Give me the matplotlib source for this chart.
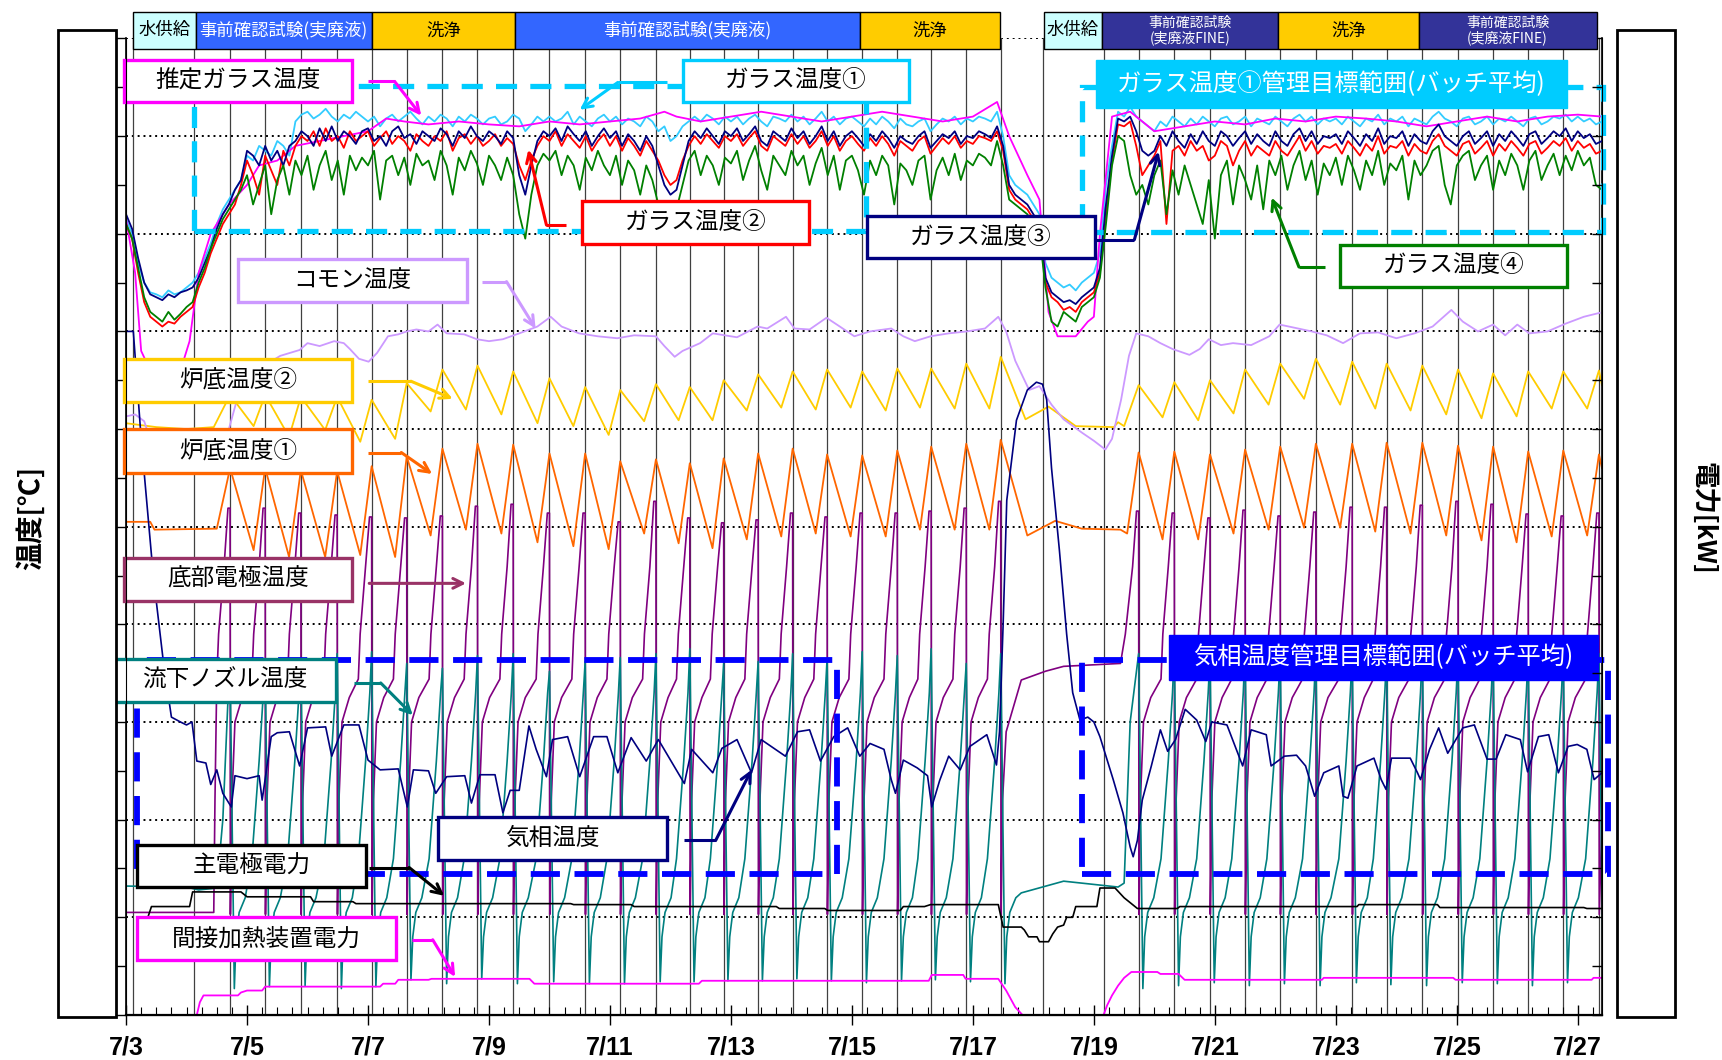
# -*- coding: utf-8 -*-
import numpy as np
import matplotlib
matplotlib.use("Agg")
import matplotlib.pyplot as plt
from matplotlib.patches import Rectangle
from matplotlib.transforms import blended_transform_factory

plt.rcParams['font.family'] = ['Noto Sans CJK JP', 'DejaVu Sans']

# time axis: days since 7/3 0:00
date_ticks = [0, 2, 4, 6, 8, 10, 12, 14, 16, 18, 20, 22, 24]
date_labels = ['7/3', '7/5', '7/7', '7/9', '7/11', '7/13', '7/15',
               '7/17', '7/19', '7/21', '7/23', '7/25', '7/27']

# operation phases (top band)
phase_names = ['水供給', '事前確認試験(実廃液)', '洗浄', '事前確認試験(実廃液)', '洗浄',
               '水供給', '事前確認試験\n(実廃液FINE)', '洗浄', '事前確認試験\n(実廃液FINE)']
phase_kind = ['water', 'real', 'wash', 'real', 'wash', 'water', 'fine', 'wash', 'fine']
phase_start = [0.12, 1.15, 4.06, 6.43, 12.14, 15.17, 16.14, 19.05, 21.37]
phase_end = [1.15, 4.06, 6.43, 12.14, 14.45, 16.14, 19.05, 21.37, 24.31]

# event lines (batch pours etc.)
events = [0.12, 1.13, 1.72, 2.30, 2.89, 3.49, 4.06, 4.64, 5.23, 5.81, 6.40, 7.00,
          7.59, 8.17, 8.76, 9.32, 9.88, 10.45, 11.02, 11.59, 12.17, 12.75, 13.31,
          13.89, 14.46, 15.16, 16.16, 16.74, 17.33, 17.92, 18.50, 19.08, 19.67,
          20.27, 20.84, 21.43, 22.02, 22.60, 23.18, 23.76, 24.35]

# pour cycles, first and second test periods
pour1 = [1.72, 2.30, 2.89, 3.49, 4.06, 4.64, 5.23, 5.81, 6.40, 7.00, 7.59, 8.17,
         8.76, 9.32, 9.88, 10.45, 11.02, 11.59, 12.17, 12.75, 13.31, 13.89, 14.46]
pour2 = [16.74, 17.33, 17.92, 18.50, 19.08, 19.67, 20.27, 20.84, 21.43, 22.02,
         22.60, 23.18, 23.76, 24.35]

# ---- glass temperatures, sampled every 0.1 day (one row per day) ----
t_glass = np.round(np.arange(245) * 0.1, 1)
glass1 = [8.15, 8.0, 7.7, 7.5, 7.4, 7.38, 7.35, 7.42, 7.38, 7.4,
          7.45, 7.5, 7.6, 7.75, 7.9, 8.1, 8.25, 8.35, 8.45, 8.55,
          8.8, 8.75, 8.9, 8.85, 8.8, 8.95, 8.9, 8.8, 9.15, 9.22,
          9.25, 9.18, 9.22, 9.28, 9.2, 9.15, 9.22, 9.18, 9.25, 9.2,
          9.15, 9.2, 9.1, 9.18, 9.22, 9.15, 9.2, 9.25, 9.18, 9.12,
          9.2, 9.15, 9.22, 9.18, 9.1, 9.2, 9.15, 9.22, 9.18, 9.12,
          9.18, 9.2, 9.12, 9.15, 9.22, 9.18, 9.05, 9.12, 9.2, 9.15,
          9.2, 9.15, 9.18, 9.25, 9.12, 9.2, 9.15, 9.1, 9.18, 9.22,
          9.15, 9.2, 9.12, 9.18, 9.15, 9.1, 9.2, 9.15, 9.05, 9.1,
          8.95, 9.0, 9.1, 9.15, 9.2, 9.15, 9.22, 9.18, 9.12, 9.2,
          9.15, 9.2, 9.12, 9.18, 9.22, 9.15, 9.1, 9.2, 9.18, 9.15,
          9.22, 9.15, 9.2, 9.12, 9.18, 9.25, 9.15, 9.2, 9.12, 9.18,
          9.2, 9.15, 9.1, 9.18, 9.12, 9.2, 9.15, 9.08, 9.18, 9.12,
          9.1, 9.15, 9.18, 9.05, 9.12, 9.18, 9.15, 9.2, 9.12, 9.18,
          9.15, 9.2, 9.18, 9.15, 9.25, 9.0, 8.6, 8.5, 8.45, 8.4,
          8.3, 8.2, 7.7, 7.55, 7.5, 7.45, 7.48, 7.42, 7.5, 7.55,
          7.6, 7.8, 8.5, 8.9, 9.25, 9.2, 9.3, 9.2, 9.15, 9.1,
          9.05, 9.15, 9.1, 9.2, 9.15, 9.1, 9.18, 9.12, 9.2, 9.15,
          9.1, 9.18, 9.2, 9.12, 9.15, 9.2, 9.1, 9.18, 9.15, 9.12,
          9.2, 9.15, 9.1, 9.18, 9.22, 9.15, 9.2, 9.12, 9.18, 9.15,
          9.18, 9.12, 9.2, 9.15, 9.1, 9.18, 9.15, 9.22, 9.12, 9.18,
          9.15, 9.2, 9.1, 9.18, 9.15, 9.12, 9.2, 9.25, 9.18, 9.15,
          9.1, 9.18, 9.2, 9.12, 9.15, 9.2, 9.12, 9.18, 9.15, 9.2,
          9.15, 9.1, 9.18, 9.2, 9.12, 9.15, 9.2, 9.18, 9.22, 9.15,
          9.2, 9.15, 9.18, 9.12, 9.15]
glass2 = [8.1, 7.95, 7.6, 7.3, 7.15, 7.1, 7.05, 7.1, 7.08, 7.15,
          7.2, 7.25, 7.45, 7.6, 7.8, 7.95, 8.1, 8.2, 8.3, 8.5,
          8.75, 8.6, 8.4, 8.8, 8.65, 8.5, 8.85, 8.7, 8.9, 9.0,
          8.95, 9.05, 8.9, 9.08, 8.95, 9.0, 8.88, 9.05, 8.95, 9.0,
          9.05, 8.9, 8.98, 9.05, 8.92, 9.0, 8.95, 8.85, 9.02, 8.95,
          8.9, 9.0, 8.95, 9.05, 8.85, 8.98, 9.02, 8.92, 9.0, 8.9,
          8.95, 9.02, 8.9, 8.98, 8.92, 8.7, 8.55, 8.75, 8.9, 9.0,
          8.95, 9.05, 8.9, 9.02, 8.95, 8.88, 9.0, 8.85, 8.95, 9.02,
          8.9, 9.0, 8.85, 8.98, 8.9, 8.8, 8.95, 8.85, 8.75, 8.6,
          8.5, 8.55, 8.75, 8.9, 9.0, 8.92, 9.02, 8.95, 8.88, 9.0,
          8.95, 9.02, 8.9, 8.98, 9.05, 8.9, 8.85, 9.0, 8.95, 8.9,
          9.02, 8.92, 9.0, 8.88, 8.95, 9.05, 8.9, 9.0, 8.85, 8.95,
          9.0, 8.92, 8.85, 8.98, 8.9, 9.0, 8.92, 8.8, 8.95, 8.9,
          8.85, 8.95, 9.0, 8.82, 8.9, 8.98, 8.92, 9.0, 8.88, 8.95,
          8.92, 9.0, 8.98, 8.95, 9.05, 8.85, 8.45, 8.35, 8.3, 8.25,
          8.15, 8.05, 7.5, 7.35, 7.3, 7.22, 7.25, 7.2, 7.3, 7.35,
          7.4, 7.6, 8.2, 8.75, 9.12, 9.1, 9.15, 8.9, 8.6, 8.7,
          8.8, 8.95, 8.1, 8.85, 8.9, 8.8, 8.95, 8.85, 8.9, 8.75,
          8.8, 8.95, 8.9, 8.7, 8.85, 8.95, 8.8, 8.9, 8.85, 8.8,
          8.95, 8.85, 8.8, 8.9, 9.0, 8.85, 8.95, 8.82, 8.9, 8.88,
          8.92, 8.82, 8.95, 8.88, 8.8, 8.92, 8.85, 9.0, 8.82, 8.9,
          8.88, 8.95, 8.8, 8.92, 8.85, 8.82, 8.95, 9.02, 8.9, 8.85,
          8.8, 8.92, 8.95, 8.82, 8.88, 8.95, 8.8, 8.92, 8.85, 8.95,
          8.88, 8.8, 8.92, 8.95, 8.82, 8.88, 8.95, 8.9, 8.98, 8.85,
          8.95, 8.88, 8.92, 8.82, 8.85]
glass3 = [8.2, 8.05, 7.75, 7.5, 7.38, 7.35, 7.32, 7.38, 7.35, 7.4,
          7.42, 7.45, 7.55, 7.7, 7.85, 8.05, 8.2, 8.3, 8.45, 8.55,
          8.85, 8.8, 8.7, 8.9, 8.75, 8.85, 8.7, 8.9, 8.95, 9.05,
          9.0, 8.9, 9.08, 8.95, 9.1, 8.95, 9.05, 9.0, 8.92, 9.05,
          9.08, 8.95, 9.0, 8.9, 9.05, 9.1, 8.98, 9.02, 8.92, 9.05,
          9.0, 8.95, 9.08, 9.02, 8.9, 9.05, 8.98, 9.1, 9.0, 8.95,
          9.05, 9.0, 8.92, 9.05, 8.98, 8.6, 8.4, 8.7, 8.95, 9.05,
          9.0, 9.08, 8.95, 9.1, 9.02, 8.95, 9.05, 8.9, 9.0, 9.08,
          8.98, 9.05, 8.9, 9.02, 8.95, 8.85, 9.0, 8.9, 8.7, 8.5,
          8.4, 8.45, 8.7, 8.95, 9.05, 8.98, 9.08, 9.0, 8.92, 9.05,
          9.0, 9.08, 8.95, 9.02, 9.1, 8.95, 8.9, 9.05, 9.0, 8.95,
          9.08, 8.98, 9.05, 8.92, 9.0, 9.1, 8.95, 9.05, 8.9, 9.0,
          9.05, 8.98, 8.9, 9.02, 8.95, 9.05, 8.98, 8.88, 9.0, 8.95,
          8.92, 9.0, 9.05, 8.88, 8.95, 9.02, 8.98, 9.05, 8.92, 9.0,
          8.98, 9.05, 9.02, 8.98, 9.1, 8.9, 8.5, 8.4, 8.35, 8.3,
          8.2, 8.1, 7.55, 7.4, 7.35, 7.3, 7.32, 7.28, 7.35, 7.4,
          7.45, 7.65, 8.3, 8.8, 9.18, 9.15, 9.2, 9.05, 8.85, 8.8,
          8.85, 9.0, 8.9, 9.05, 8.95, 8.88, 9.02, 8.92, 9.05, 8.95,
          8.9, 9.05, 9.0, 8.9, 8.98, 9.05, 8.92, 9.02, 8.95, 8.9,
          9.05, 8.95, 8.9, 9.02, 9.08, 8.95, 9.05, 8.92, 9.0, 8.98,
          9.02, 8.92, 9.05, 8.98, 8.9, 9.02, 8.95, 9.08, 8.92, 9.0,
          8.98, 9.05, 8.9, 9.02, 8.95, 8.92, 9.05, 9.12, 9.0, 8.95,
          8.9, 9.0, 9.05, 8.92, 8.98, 9.05, 8.9, 9.02, 8.95, 9.05,
          8.98, 8.9, 9.02, 9.05, 8.92, 8.98, 9.05, 9.0, 9.08, 8.95,
          9.05, 8.98, 9.02, 8.92, 8.95]
glass4 = [8.1, 7.95, 7.65, 7.35, 7.2, 7.15, 7.1, 7.2, 7.12, 7.18,
          7.25, 7.3, 7.5, 7.65, 7.85, 8.0, 8.15, 8.25, 8.35, 8.45,
          8.6, 8.3, 8.5, 8.7, 8.2, 8.55, 8.7, 8.4, 8.75, 8.6,
          8.8, 8.45, 8.7, 8.85, 8.55, 8.75, 8.4, 8.8, 8.65, 8.78,
          8.7, 8.85, 8.35, 8.75, 8.8, 8.6, 8.78, 8.5, 8.82, 8.7,
          8.75, 8.55, 8.85, 8.7, 8.4, 8.78, 8.65, 8.85, 8.72, 8.5,
          8.8, 8.7, 8.55, 8.78, 8.6, 8.2, 7.95, 8.4, 8.7, 8.82,
          8.75, 8.85, 8.6, 8.8, 8.7, 8.45, 8.78, 8.65, 8.85, 8.7,
          8.6, 8.8, 8.5, 8.75, 8.65, 8.4, 8.7, 8.55, 8.3, 8.2,
          8.1, 8.25, 8.5, 8.75, 8.85, 8.6, 8.8, 8.7, 8.5, 8.78,
          8.72, 8.85, 8.55, 8.75, 8.9, 8.65, 8.45, 8.8, 8.7, 8.6,
          8.85, 8.7, 8.8, 8.5, 8.72, 8.88, 8.6, 8.8, 8.45, 8.75,
          8.8, 8.65, 8.4, 8.75, 8.6, 8.8, 8.7, 8.3, 8.72, 8.65,
          8.5, 8.75, 8.8, 8.35, 8.65, 8.78, 8.6, 8.82, 8.55, 8.75,
          8.7, 8.82, 8.78, 8.7, 8.95, 8.7, 8.35, 8.3, 8.25, 8.2,
          8.1, 8.0, 7.45, 7.1, 7.05, 7.2, 7.15, 7.1, 7.25, 7.3,
          7.35, 7.55, 8.1, 8.7, 9.0, 8.95, 8.6, 8.4, 8.5, 8.3,
          8.6, 8.75, 8.2, 8.65, 8.4, 8.7, 8.5, 8.3, 8.1, 8.55,
          7.95, 8.6, 8.75, 8.3, 8.7, 8.55, 8.35, 8.7, 8.25, 8.75,
          8.6, 8.8, 8.45, 8.7, 8.85, 8.55, 8.75, 8.4, 8.72, 8.6,
          8.78, 8.5, 8.8, 8.65, 8.45, 8.75, 8.6, 8.85, 8.5, 8.72,
          8.65, 8.8, 8.35, 8.75, 8.6, 8.7, 8.85, 8.9, 8.5, 8.3,
          8.7, 8.8, 8.85, 8.55, 8.7, 8.8, 8.45, 8.75, 8.6, 8.82,
          8.7, 8.45, 8.75, 8.85, 8.55, 8.7, 8.82, 8.6, 8.8, 8.65,
          8.85, 8.7, 8.78, 8.5, 8.45]

# estimated glass temperature (smoother)
est_t = [0, 0.15, 0.25, 0.4, 0.9, 1.05, 1.2, 1.4, 1.7, 2.0, 2.2, 2.5, 2.8, 3.2, 3.6,
         4.0, 4.3, 4.6, 5.0, 5.5, 6.0, 6.5, 7.0, 7.5, 8.0, 8.5, 8.9, 9.1, 9.5, 10.0,
         10.5, 11.0, 11.5, 12.0, 12.5, 13.0, 13.5, 14.0, 14.4, 14.6, 14.9, 15.1, 15.25,
         15.4, 15.7, 15.9, 16.0, 16.1, 16.3, 16.6, 17.0, 17.5, 18.0, 18.5, 19.0, 19.5,
         20.0, 20.5, 21.0, 21.5, 22.0, 22.5, 23.0, 23.5, 24.0, 24.4]
est_v = [8.15, 7.6, 6.8, 6.6, 6.6, 6.9, 7.6, 8.0, 8.3, 8.5, 8.7, 8.75, 8.9, 8.95, 9.0,
         9.05, 9.18, 9.15, 9.12, 9.15, 9.12, 9.1, 9.15, 9.12, 9.15, 9.18, 9.25, 9.2, 9.15,
         9.2, 9.25, 9.2, 9.15, 9.2, 9.25, 9.2, 9.15, 9.2, 9.35, 9.0, 8.6, 8.35, 7.2,
         6.95, 6.95, 7.1, 7.15, 8.0, 9.2, 9.25, 9.05, 9.1, 9.15, 9.12, 9.18, 9.15, 9.2,
         9.18, 9.15, 9.1, 9.15, 9.2, 9.15, 9.2, 9.22, 9.2]

# common temperature
common_t = [0, 0.15, 0.3, 0.45, 1.0, 1.55, 1.7, 1.9, 2.2, 2.55, 2.87, 3.0, 3.2, 3.44,
            3.6, 3.7, 3.85, 4.01, 4.15, 4.33, 4.5, 4.64, 4.8, 5.0, 5.15, 5.3, 5.59, 5.8,
            6.0, 6.23, 6.5, 6.8, 7.02, 7.2, 7.49, 7.8, 8.12, 8.4, 8.76, 8.9, 9.07,
            9.2, 9.49, 9.7, 9.9, 10.1, 10.44, 10.6, 10.91, 11.05, 11.3, 11.58, 11.8,
            12.04, 12.3, 12.65, 12.85, 13.04, 13.3, 13.6, 13.9, 14.2, 14.42, 14.55,
            14.7, 14.93, 15.1, 15.3, 15.5, 15.81, 16.0, 16.19, 16.3, 16.45, 16.58,
            16.7, 16.9, 17.1, 17.3, 17.58, 17.75, 17.9, 18.1, 18.3, 18.6, 18.9,
            19.07, 19.3, 19.6, 19.85, 20.12, 20.4, 20.7, 21.0, 21.3, 21.6, 21.91,
            22.1, 22.35, 22.6, 22.8, 23.0, 23.2, 23.5, 23.8, 24.1, 24.36]
common_v = [6.13, 6.15, 6.08, 5.8, 5.75, 5.78, 6.0, 6.45, 6.62, 6.75, 6.81, 6.88, 6.85,
            6.9, 6.88, 6.82, 6.72, 6.69, 6.78, 6.95, 6.97, 7.0, 7.02, 7.0, 7.07, 6.98,
            6.97, 6.92, 6.9, 6.92, 6.98, 7.05, 7.15, 7.05, 6.98, 6.95, 6.93, 6.96, 6.95,
            6.85, 6.74, 6.8, 6.88, 6.98, 6.96, 6.94, 7.05, 7.03, 7.15, 7.03, 7.02, 7.14,
            7.05, 6.95, 7.0, 7.03, 6.95, 6.9, 6.95, 6.98, 7.0, 7.03, 7.15, 7.0, 6.7, 6.4,
            6.44, 6.25, 6.1, 5.96, 5.88, 5.79, 5.9, 6.3, 6.75, 6.98, 6.95, 6.88, 6.82,
            6.76, 6.82, 6.92, 6.86, 6.88, 6.86, 6.95, 7.07, 7.04, 7.0, 6.96, 6.88, 6.98,
            6.99, 6.93, 6.98, 7.05, 7.22, 7.1, 7.0, 7.07, 6.96, 7.07, 6.98, 7.0, 7.08,
            7.15, 7.19]

# furnace bottom temperature 1 (peaks at pours, troughs between)
bot1_peak1 = [5.6, 5.6, 5.58, 5.57, 5.62, 5.72, 5.80, 5.85, 5.84, 5.75, 5.75, 5.67,
              5.69, 5.65, 5.70, 5.75, 5.80, 5.74, 5.73, 5.78, 5.82, 5.85, 5.89]
bot1_low1 = [4.76, 4.69, 4.69, 4.71, 4.69, 4.91, 4.97, 4.93, 4.84, 4.80, 4.77, 4.93,
             4.83, 4.78, 4.87, 4.90, 4.93, 4.90, 4.90, 4.97, 4.97, 4.97]
bot1_peak2 = [5.76, 5.77, 5.74, 5.79, 5.82, 5.85, 5.85, 5.86, 5.86, 5.83, 5.82, 5.77,
              5.78, 5.74]
bot1_low2 = [4.87, 4.87, 4.93, 4.97, 4.99, 4.99, 4.95, 4.93, 4.91, 4.86, 4.84, 4.90, 4.91]
bot1_pre_t, bot1_pre_v = [0, 0.4, 0.47, 1.5], [5.05, 5.05, 4.97, 4.98]
bot1_gap_t = [14.9, 15.36, 15.8, 16.44, 16.55]
bot1_gap_v = [4.91, 5.06, 4.98, 4.97, 4.93]

# furnace bottom temperature 2
bot2_peak1 = [6.35, 6.35, 6.33, 6.33, 6.30, 6.47, 6.61, 6.65, 6.59, 6.52, 6.43, 6.40,
              6.46, 6.43, 6.50, 6.56, 6.59, 6.61, 6.59, 6.62, 6.62, 6.67, 6.74]
bot2_low1 = [6.03, 5.92, 5.99, 5.87, 5.90, 6.18, 6.20, 6.15, 6.06, 6.03, 5.94, 6.08,
             6.09, 6.09, 6.19, 6.22, 6.20, 6.22, 6.19, 6.22, 6.21, 6.21]
bot2_peak2 = [6.45, 6.48, 6.50, 6.61, 6.67, 6.72, 6.69, 6.67, 6.65, 6.61, 6.57, 6.59,
              6.59, 6.60]
bot2_low2 = [6.12, 6.09, 6.16, 6.25, 6.31, 6.25, 6.21, 6.19, 6.15, 6.11, 6.13, 6.21, 6.21]
bot2_pre_t, bot2_pre_v = [0, 0.5, 1.0, 1.45], [6.06, 6.02, 6.0, 6.02]
bot2_gap_t = [14.87, 15.25, 15.7, 16.33, 16.4, 16.5]
bot2_gap_v = [6.1, 6.23, 6.03, 6.02, 6.07, 6.03]

# bottom electrode temperature peaks
elec_peak1 = [5.19, 5.19, 5.14, 5.12, 5.10, 5.09, 5.11, 5.21, 5.23, 5.14, 5.14, 5.05,
              5.26, 5.09, 5.04, 5.07, 5.14, 5.10, 5.14, 5.14, 5.16, 5.19, 5.26]
elec_peak2 = [5.16, 5.14, 5.09, 5.17, 5.11, 5.15, 5.20, 5.20, 5.22, 5.26, 5.23, 5.13,
              5.11, 5.14]
elec_pre_t = [0, 1.45, 1.47, 1.5, 1.53, 1.62]
elec_pre_v = [1.05, 1.05, 2.2, 3.44, 3.9, 4.59]
elec_gap_t = [14.49, 14.55, 14.8, 15.2, 15.5, 16.44, 16.52, 16.64]
elec_gap_v = [2.2, 2.9, 3.43, 3.52, 3.57, 3.6, 3.9, 4.59]

# nozzle temperature peaks / lows
noz_peak1 = [3.55, 3.6, 3.65, 3.7, 3.72, 3.6, 3.55, 3.68, 3.7, 3.52, 3.62, 3.66,
             3.7, 3.75, 3.6, 3.62, 3.7, 3.65, 3.72, 3.68, 3.75, 3.6, 3.7]
noz_low1 = [0.27, 0.29, 0.3, 0.27, 0.29, 0.36, 0.32, 0.37, 0.32, 0.34, 0.32, 0.32,
            0.34, 0.34, 0.35, 0.35, 0.37, 0.35, 0.33, 0.35, 0.36, 0.34, 0.32]
noz_peak2 = [3.7, 3.72, 3.68, 3.75, 3.7, 3.72, 3.68, 3.7, 3.74, 3.7, 3.72, 3.7, 3.68, 3.7]
noz_low2 = [0.27, 0.3, 0.33, 0.3, 0.32, 0.3, 0.33, 0.31, 0.3, 0.33, 0.32, 0.3, 0.33, 0.32]
noz_pre_t, noz_pre_v = [0, 1.0, 1.2, 1.5, 1.6, 1.69], [1.32, 1.31, 1.28, 1.3, 2.0, 3.3]
noz_gap_t = [14.8, 15.5, 16.4, 16.5, 16.6, 16.7]
noz_gap_v = [1.25, 1.37, 1.31, 1.35, 3.0, 3.5]

# gas phase temperature
gas_t = [0.0, 0.12, 0.25, 0.45, 0.62, 0.75, 0.9, 1.0, 1.09, 1.17, 1.32, 1.4, 1.5, 1.6,
         1.74, 1.8, 2.0, 2.2, 2.25, 2.4, 2.5, 2.7, 2.87, 3.0, 3.3, 3.4, 3.6, 3.85, 4.0,
         4.2, 4.5, 4.65, 4.75, 5.0, 5.12, 5.3, 5.6, 5.71, 5.85, 6.1, 6.23, 6.35, 6.5,
         6.66, 6.78, 6.95, 7.05, 7.3, 7.5, 7.73, 7.95, 8.13, 8.35, 8.6, 8.8, 9.23, 9.35,
         9.7, 9.85, 10.1, 10.34, 10.5, 10.9, 11.1, 11.3, 11.48, 11.7, 11.93, 12.13,
         12.3, 12.53, 12.65, 12.72, 12.85, 13.08, 13.25, 13.32, 13.45, 13.6, 13.79,
         13.95, 14.23, 14.39, 14.44, 14.5, 14.56, 14.72, 14.9, 15.05, 15.15, 15.22,
         15.3, 15.43, 15.55, 15.65, 15.77, 15.9, 16.0, 16.1, 16.32, 16.48, 16.6, 16.65,
         16.72, 16.8, 16.95, 17.1, 17.22, 17.35, 17.51, 17.7, 17.85, 17.95, 18.2, 18.46,
         18.6, 18.85, 18.93, 19.15, 19.35, 19.5, 19.65, 19.8, 20.05, 20.12, 20.2, 20.35,
         20.63, 20.75, 20.83, 20.92, 21.23, 21.35, 21.4, 21.55, 21.7, 21.85, 22.1,
         22.29, 22.5, 22.65, 22.81, 23.05, 23.17, 23.35, 23.52, 23.68, 23.84, 23.99,
         24.15, 24.27, 24.4]
gas_v = [7.0, 7.0, 5.9, 4.5, 3.6, 3.05, 3.0, 2.97, 3.0, 2.6, 2.58, 2.36, 2.51, 2.27,
         2.13, 2.45, 2.42, 2.45, 2.2, 2.85, 2.89, 2.9, 2.55, 2.94, 2.95, 2.65, 2.97,
         2.97, 2.61, 2.51, 2.52, 2.13, 2.51, 2.5, 2.27, 2.44, 2.45, 2.17, 2.46, 2.46,
         2.07, 2.3, 2.3, 2.96, 2.72, 2.44, 2.82, 2.85, 2.44, 2.85, 2.85, 2.48, 2.84,
         2.6, 2.82, 2.37, 2.72, 2.48, 2.73, 2.82, 2.48, 2.82, 2.65, 2.9, 2.92, 2.6,
         2.85, 2.94, 2.65, 2.78, 2.72, 2.41, 2.27, 2.61, 2.53, 2.45, 2.13, 2.4, 2.65,
         2.51, 2.75, 2.87, 2.56, 2.9, 4.0, 5.27, 6.09, 6.4, 6.48, 6.46, 6.3, 5.6, 4.76,
         3.9, 3.3, 3.02, 3.05, 3.0, 2.85, 2.41, 2.07, 1.72, 1.62, 1.79, 2.2, 2.55, 2.92,
         2.7, 2.82, 3.13, 3.02, 2.8, 3.0, 2.97, 2.55, 2.92, 2.87, 2.55, 2.65, 2.66,
         2.55, 2.24, 2.48, 2.55, 2.24, 2.22, 2.55, 2.63, 2.41, 2.31, 2.63, 2.63, 2.48,
         2.41, 2.72, 2.94, 2.68, 2.94, 2.97, 2.62, 2.62, 2.87, 2.82, 2.49, 2.85, 2.87,
         2.48, 2.75, 2.77, 2.72, 2.41, 2.48]

# main electrode power
main_t = [0.35, 0.42, 1.05, 1.1, 1.9, 2.0, 3.05, 3.1, 3.75, 3.8, 7.35, 7.4, 8.35, 8.4,
          10.75, 10.8, 11.55, 11.6, 12.8, 12.85, 13.2, 13.3, 14.42, 14.5, 14.8, 14.85,
          14.92, 15.06, 15.1, 15.25, 15.32, 15.4, 15.5, 15.55, 15.65, 15.7, 16.05, 16.1,
          16.35, 16.5, 16.62, 16.72, 17.38, 17.42, 20.35, 20.38, 21.68, 21.72, 24.1,
          24.15, 24.4]
main_v = [0.98, 1.11, 1.11, 1.26, 1.26, 1.21, 1.21, 1.16, 1.16, 1.14, 1.14, 1.13, 1.13,
          1.11, 1.11, 1.09, 1.09, 1.07, 1.07, 1.11, 1.11, 1.13, 1.13, 0.9, 0.9, 0.87,
          0.8, 0.8, 0.75, 0.75, 0.83, 0.9, 0.92, 1.0, 1.0, 1.11, 1.11, 1.3, 1.3, 1.2,
          1.14, 1.09, 1.09, 1.11, 1.11, 1.13, 1.13, 1.1, 1.1, 1.09, 1.09]

# indirect heater power
heat_t = [0.0, 1.17, 1.22, 1.28, 1.85, 1.9, 2.0, 2.25, 2.3, 4.2, 4.25, 4.45, 4.5, 5.0,
          5.05, 6.67, 6.75, 9.47, 9.52, 13.27, 13.32, 13.84, 13.88, 14.42, 14.55, 14.7,
          14.82, 16.16, 16.22, 16.3, 16.4, 16.5, 16.62, 17.05, 17.1, 17.4, 17.5, 19.77,
          19.8, 21.94, 21.98, 24.23, 24.26, 24.4]
heat_v = [0.0, 0.0, 0.13, 0.2, 0.2, 0.23, 0.25, 0.25, 0.29, 0.29, 0.32, 0.32, 0.36,
          0.36, 0.37, 0.37, 0.32, 0.32, 0.35, 0.35, 0.41, 0.41, 0.37, 0.37, 0.25, 0.08,
          0.0, 0.0, 0.1, 0.2, 0.3, 0.38, 0.44, 0.44, 0.42, 0.42, 0.36, 0.36, 0.38, 0.38,
          0.36, 0.36, 0.38, 0.38]


def sawtooth(evts, peaks, lows, frac=0.67):
    xs, ys = [], []
    for i, (t, p) in enumerate(zip(evts, peaks)):
        xs.append(t)
        ys.append(p)
        if i < len(lows):
            xs.append(t + frac * (evts[i + 1] - t))
            ys.append(lows[i])
    return xs, ys


def electrode(evts, peaks):
    # flat top, drop at the pour, fast recovery then climb to the next peak
    xs, ys = [], []
    for i, (t, p) in enumerate(zip(evts, peaks)):
        xs += [t - 0.035, t, t + 0.005]
        ys += [p, p, 1.03]
        if i + 1 < len(evts):
            n = evts[i + 1]
            xs += [t + 0.03, t + 0.08, t + 0.2, n - 0.22, n - 0.19, n - 0.1]
            ys += [2.2, 3.0, 3.25, 3.44, 3.9, 4.59]
    return xs, ys


def nozzle(evts, peaks, lows):
    xs, ys = [], []
    for i, (t, p) in enumerate(zip(evts, peaks)):
        xs += [t, t + 0.07, t + 0.1, t + 0.15, t + 0.25]
        ys += [p, lows[i], 0.8, 1.05, 1.2]
        if i + 1 < len(evts):
            n = evts[i + 1]
            xs += [n - 0.22, n - 0.1, n - 0.03]
            ys += [1.6, 2.6, 3.3]
    return xs, ys


def join(*parts):
    xs, ys = [], []
    for px, py in parts:
        xs += list(px)
        ys += list(py)
    return xs, ys


fig = plt.figure(figsize=(17.22, 10.60), dpi=100)
ax = fig.add_axes([0.0732, 0.0425, 0.8571, 0.9212])
ax.set_xlim(0, 24.4)
ax.set_ylim(0, 10)

# grid
for yv in range(1, 11):
    ax.axhline(yv, color='black', lw=1.4, ls=(0, (1, 2)), zorder=1)
for ev in events:
    ax.axvline(ev, color='#404040', lw=0.9, zorder=1)

# lower series
x, y = join((bot2_pre_t, bot2_pre_v), sawtooth(pour1, bot2_peak1, bot2_low1),
            (bot2_gap_t, bot2_gap_v), sawtooth(pour2, bot2_peak2, bot2_low2),
            ([24.4], [6.45]))
ax.plot(x, y, color='#FFCC00', lw=1.3, zorder=2)
x, y = join((bot1_pre_t, bot1_pre_v), sawtooth(pour1, bot1_peak1, bot1_low1),
            (bot1_gap_t, bot1_gap_v), sawtooth(pour2, bot1_peak2, bot1_low2),
            ([24.4], [5.6]))
ax.plot(x, y, color='#FF6600', lw=1.3, zorder=2)
ax.plot(common_t, common_v, color='#CC99FF', lw=1.3, zorder=2)
x, y = join((elec_pre_t, elec_pre_v), electrode(pour1, elec_peak1),
            (elec_gap_t, elec_gap_v), electrode(pour2, elec_peak2), ([24.4], [2.0]))
ax.plot(x, y, color='#800080', lw=1.2, zorder=2)
x, y = join((noz_pre_t, noz_pre_v), nozzle(pour1, noz_peak1, noz_low1),
            (noz_gap_t, noz_gap_v), nozzle(pour2, noz_peak2, noz_low2))
ax.plot(x, y, color='#008080', lw=1.2, zorder=2)
ax.plot(gas_t, gas_v, color='#000080', lw=1.2, zorder=2)
ax.plot(main_t, main_v, color='black', lw=1.2, zorder=2)
ax.plot(heat_t, heat_v, color='#FF00FF', lw=1.3, zorder=2)

# glass temperatures
ax.plot(t_glass, glass1, color='#33CCFF', lw=1.3, zorder=3)
ax.plot(est_t, est_v, color='#FF00FF', lw=1.3, zorder=3)
ax.plot(t_glass, glass2, color='#FF0000', lw=1.3, zorder=3)
ax.plot(t_glass, glass3, color='#000080', lw=1.3, zorder=3)
ax.plot(t_glass, glass4, color='#008000', lw=1.3, zorder=3)

# target ranges
for x0, x1, y0, y1, c, lw, dash in [
        (1.13, 12.23, 8.03, 9.51, '#00CCFF', 3.8, (0, (4, 2.5))),
        (15.8, 24.42, 8.02, 9.50, '#00CCFF', 3.8, (0, (4, 2.5))),
        (0.18, 11.75, 1.44, 3.64, '#0000FF', 4.2, (0, (5, 2.5))),
        (15.8, 24.5, 1.44, 3.64, '#0000FF', 4.2, (0, (5, 2.5)))]:
    ax.add_patch(Rectangle((x0, y0), x1 - x0, y1 - y0, fill=False, ec=c, lw=lw,
                           ls=dash, zorder=4, clip_on=False))

# label boxes
boxes = [
    (-0.03, 3.74, 9.35, 9.78, '推定ガラス温度', '#FF00FF'),
    (9.21, 12.94, 9.35, 9.78, 'ガラス温度①', '#00CCFF'),
    (7.54, 11.29, 7.90, 8.34, 'ガラス温度②', '#FF0000'),
    (12.25, 16.02, 7.75, 8.18, 'ガラス温度③', '#000080'),
    (20.07, 23.82, 7.45, 7.89, 'ガラス温度④', '#008000'),
    (1.85, 5.64, 7.30, 7.74, 'コモン温度', '#CC99FF'),
    (-0.03, 3.74, 6.28, 6.72, '炉底温度②', '#FFCC00'),
    (-0.03, 3.74, 5.55, 6.00, '炉底温度①', '#FF6600'),
    (-0.03, 3.74, 4.24, 4.68, '底部電極温度', '#993366'),
    (-0.2, 3.47, 3.20, 3.65, '流下ノズル温度', '#008080'),
    (5.16, 8.94, 1.59, 2.03, '気相温度', '#000080'),
    (0.18, 3.97, 1.31, 1.74, '主電極電力', '#000000'),
    (0.18, 4.46, 0.56, 1.00, '間接加熱装置電力', '#FF00FF'),
]
for x0, x1, y0, y1, txt, c in boxes:
    ax.add_patch(Rectangle((x0, y0), x1 - x0, y1 - y0, fc='white', ec=c, lw=2.4,
                           zorder=6, clip_on=False))
    ax.text((x0 + x1) / 2, (y0 + y1) / 2, txt, fontsize=17, ha='center',
            va='center', zorder=7, clip_on=False)

for x0, x1, y0, y1, txt, c in [
        (16.03, 23.83, 9.29, 9.78, 'ガラス温度①管理目標範囲(バッチ平均)', '#00CCFF'),
        (17.24, 24.33, 3.43, 3.89, '気相温度管理目標範囲(バッチ平均)', '#0000FF')]:
    ax.add_patch(Rectangle((x0, y0), x1 - x0, y1 - y0, fc=c, ec=c, lw=1,
                           zorder=6, clip_on=False))
    ax.text((x0 + x1) / 2, (y0 + y1) / 2, txt, fontsize=17.5, color='white',
            ha='center', va='center', zorder=7)

# leader arrows
arrows = [
    ([(4.0, 9.56), (4.44, 9.56), (4.88, 9.21)], '#FF00FF'),
    ([(8.94, 9.55), (8.13, 9.55), (7.5, 9.27)], '#00CCFF'),
    ([(7.28, 8.09), (6.95, 8.09), (6.65, 8.86)], '#FF0000'),
    ([(16.04, 7.94), (16.67, 7.94), (17.07, 8.84)], '#000080'),
    ([(19.82, 7.66), (19.39, 7.66), (18.94, 8.37)], '#008000'),
    ([(5.88, 7.51), (6.29, 7.51), (6.77, 7.03)], '#CC99FF'),
    ([(4.0, 6.49), (4.71, 6.49), (5.4, 6.31)], '#FFCC00'),
    ([(4.0, 5.76), (4.55, 5.76), (5.06, 5.54)], '#FF6600'),
    ([(4.02, 4.42), (5.62, 4.42)], '#993366'),
    ([(3.77, 3.4), (4.21, 3.4), (4.74, 3.07)], '#008080'),
    ([(9.22, 1.79), (9.75, 1.79), (10.34, 2.51)], '#000080'),
    ([(4.02, 1.51), (4.68, 1.51), (5.26, 1.22)], '#000000'),
    ([(4.73, 0.77), (5.07, 0.77), (5.44, 0.39)], '#FF00FF'),
]
for pts, c in arrows:
    xs = [p[0] for p in pts]
    ys = [p[1] for p in pts]
    ax.plot(xs[:-1], ys[:-1], color=c, lw=2.2, zorder=6, solid_capstyle='butt')
    ax.annotate('', xy=pts[-1], xytext=pts[-2], zorder=6,
                arrowprops=dict(arrowstyle='->,head_length=0.7,head_width=0.35',
                                color=c, lw=2.2, shrinkA=0, shrinkB=0))

# axes styling
ax.spines['top'].set_visible(False)
ax.spines['bottom'].set_linewidth(1.6)
ax.spines['left'].set_linewidth(1.2)
ax.spines['right'].set_linewidth(1.2)
ax.set_xticks(date_ticks)
ax.set_xticklabels(date_labels, fontsize=18, fontweight='bold',
                   family=['Liberation Sans', 'DejaVu Sans'])
ax.set_xticks(np.arange(0, 24.5, 0.25), minor=True)
ax.tick_params(axis='x', which='major', direction='inout', length=14, width=1, pad=8)
ax.tick_params(axis='x', which='minor', direction='in', length=6, width=0.8)
ax.set_yticks(range(11))
ax.set_yticks(np.arange(0, 10.01, 0.5), minor=True)
ax.set_yticklabels([])
ax.tick_params(axis='y', which='both', direction='out', length=7, width=1)

ax2 = ax.twinx()
ax2.set_ylim(0, 10)
ax2.set_yticks(range(11))
ax2.set_yticks(np.arange(0, 10.01, 0.5), minor=True)
ax2.set_yticklabels([])
ax2.tick_params(axis='y', which='both', direction='in', length=7, width=1)
ax2.spines['top'].set_visible(False)

# phase band above the plot
trans = blended_transform_factory(ax.transData, fig.transFigure)
phase_colors = {'water': ('#CCFFFF', 'black'), 'real': ('#3366FF', 'white'),
                'wash': ('#FFCC00', 'black'), 'fine': ('#333399', 'white')}
for name, kind, s, e in zip(phase_names, phase_kind, phase_start, phase_end):
    fc, tc = phase_colors[kind]
    fig.patches.append(Rectangle((s, 0.9538), e - s, 0.0349, transform=trans,
                                 fc=fc, ec='black', lw=1.0, figure=fig))
    fs = 10 if '\n' in name else 12.5
    fig.text((s + e) / 2, 0.9713, name, transform=trans, ha='center', va='center',
             fontsize=fs, color=tc, linespacing=1.0)

# blank side panels and axis titles
for x0 in [0.0337, 0.939]:
    fig.patches.append(Rectangle((x0, 0.0406), 0.0336, 0.9311, transform=fig.transFigure,
                                 fc='white', ec='black', lw=2, figure=fig))
fig.text(0.018, 0.511, '温度[℃]', rotation=90, fontsize=20, fontweight='bold',
         ha='center', va='center')
fig.text(0.989, 0.511, '電力[kW]', rotation=270, fontsize=19, fontweight='bold',
         ha='center', va='center')

fig.savefig('out.png', dpi=100)
